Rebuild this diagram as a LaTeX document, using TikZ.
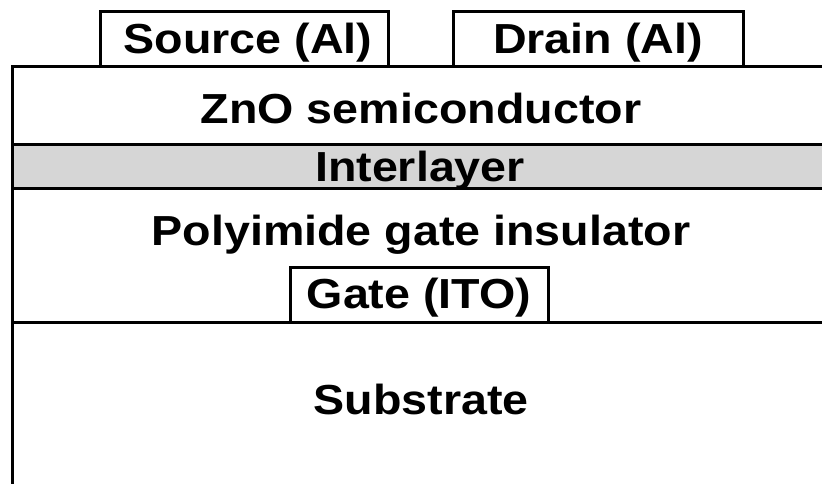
\documentclass[tikz,border=0pt]{standalone}
\usepackage{fontspec}
\setmainfont{Liberation Sans}[FakeStretch=1.11]
\definecolor{interfill}{RGB}{214,214,214}
\begin{document}
\begin{tikzpicture}[x=1pt,y=-1pt,
  lbl/.style={font=\fontsize{42}{44}\selectfont\bfseries, inner sep=0pt, text height=30.1pt, text depth=0pt},
  electrode/.style={draw, line width=3pt, fill=white, inner sep=0pt},
  layerline/.style={line width=3pt, line cap=rect, line join=miter}]
\useasboundingbox (0,0) rectangle (822,484);
% named corner points
\coordinate (c1) at (12,67);  \coordinate (c1r) at (822,67);
\coordinate (c2) at (12,145); \coordinate (c2r) at (822,145);
\coordinate (c3) at (12,188); \coordinate (c3r) at (822,188);
\coordinate (c4) at (12,322); \coordinate (c4r) at (822,322);
\coordinate (cb) at (12,486);
% interlayer fill
\fill[interfill] (c2) rectangle (c3r);
% layer lines
\draw[layerline] (c1r) -- (c1) -- (cb);
\draw[layerline] (c2) -- (c2r);
\draw[layerline] (c3) -- (c3r);
\draw[layerline] (c4) -- (c4r);
% electrodes
\node[electrode, minimum width=288pt, minimum height=55pt] (source) at (244,39.5) {};
\node[electrode, minimum width=290pt, minimum height=55pt] (drain) at (598,39.5) {};
\node[electrode, minimum width=258pt, minimum height=55pt] (gate) at (419,294.5) {};
% labels
\node[lbl] (sourcelbl) at (248,38) {Source (Al)};
\node[lbl] (drainlbl) at (598,38) {Drain (Al)};
\node[lbl] (znolbl) at (421,108) {ZnO semiconductor};
\node[lbl] (interlbl) at (420,166) {Interlayer};
\node[lbl] (polylbl) at (421,230) {Polyimide gate insulator};
\node[lbl] (gatelbl) at (419,293) {Gate (ITO)};
\node[lbl] (sublbl) at (421,399) {Substrate};
\end{tikzpicture}
\end{document}
